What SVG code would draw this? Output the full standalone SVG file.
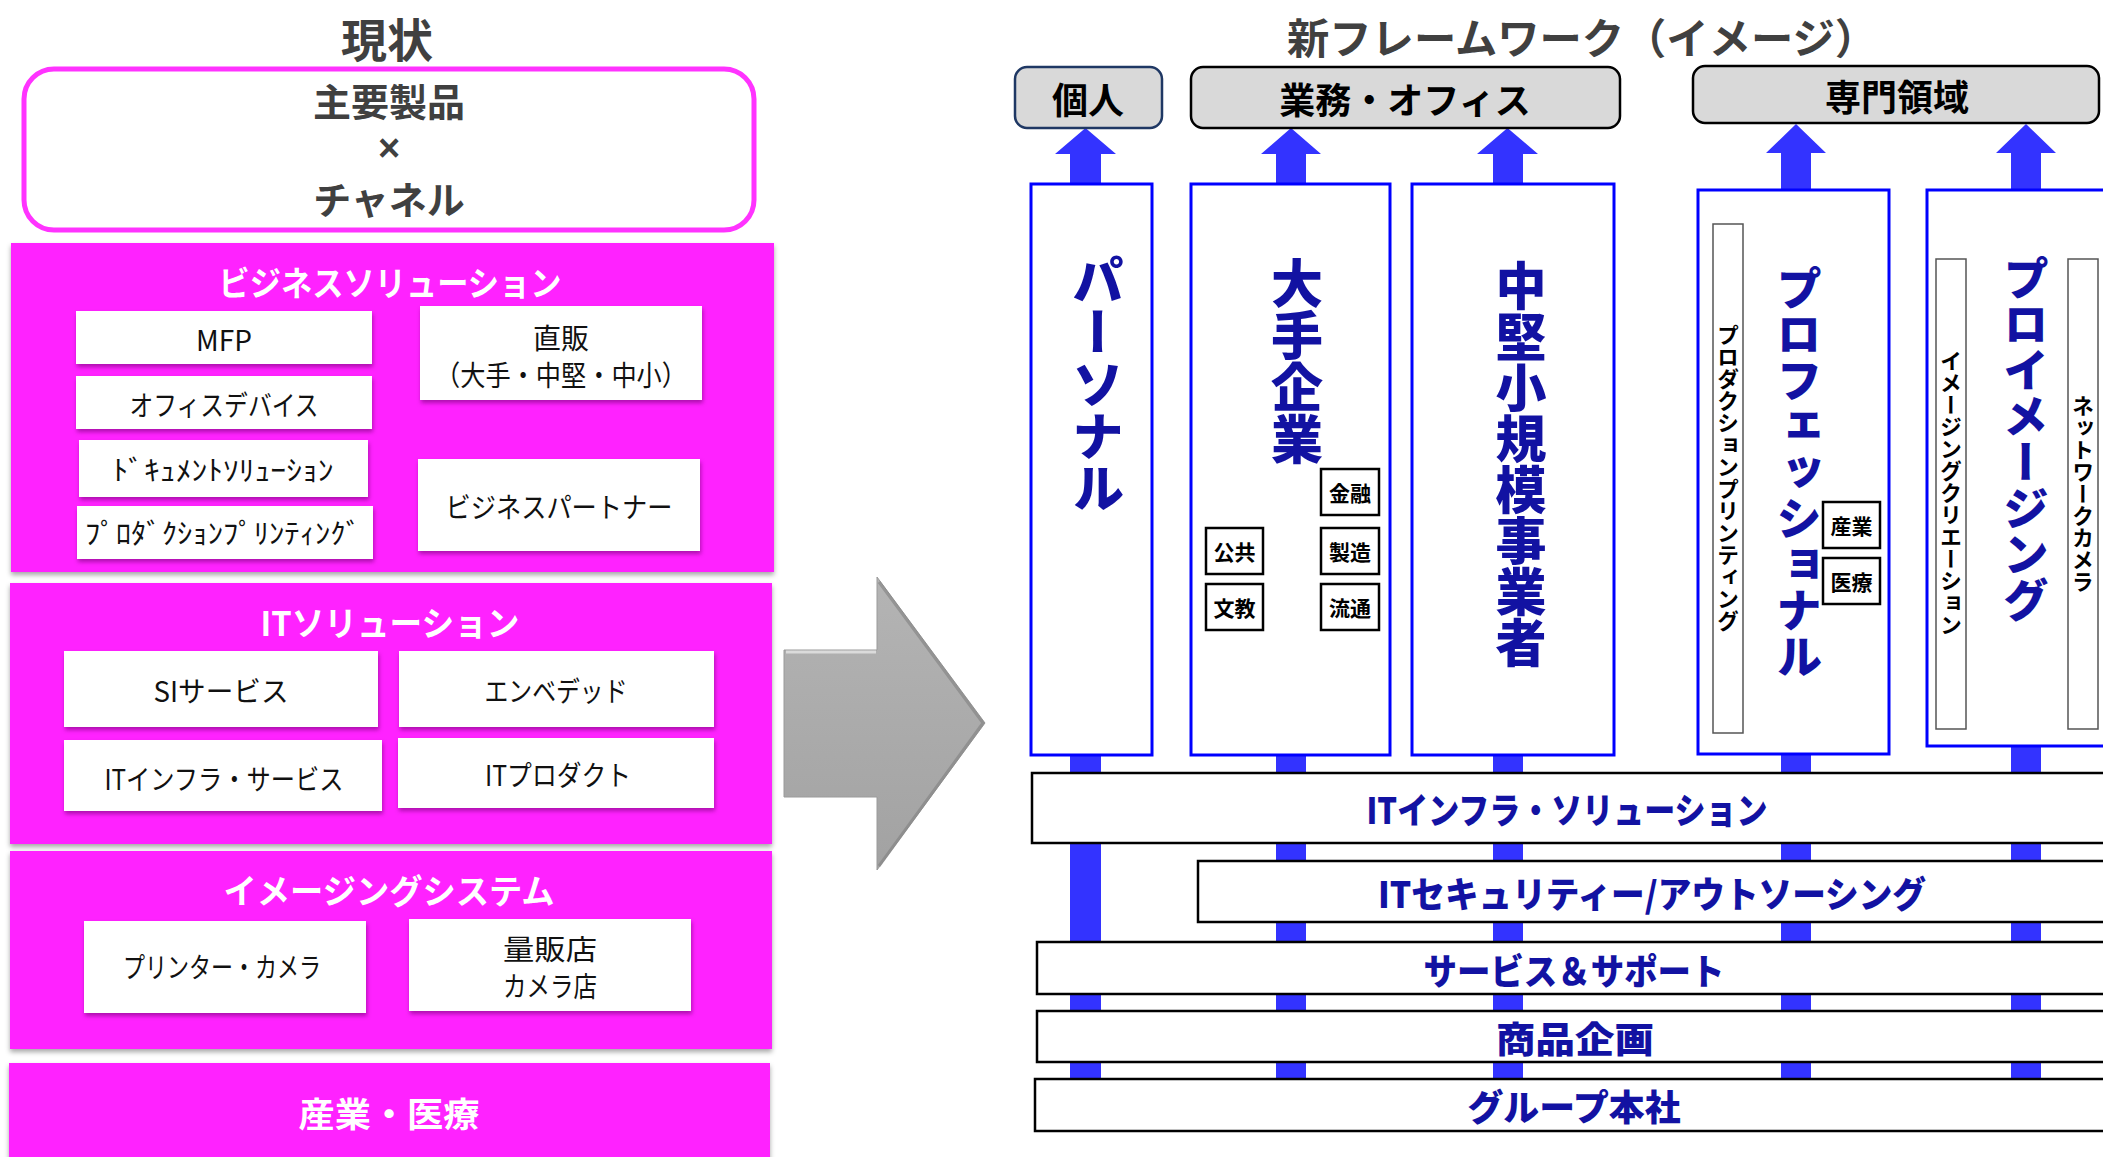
<svg xmlns="http://www.w3.org/2000/svg" width="2103" height="1157" viewBox="0 0 2103 1157">
<defs>
<style>
.jp{font-family:"Noto Sans CJK JP","Noto Sans",sans-serif;}
.title{font-family:"Noto Sans CJK JP",sans-serif;font-weight:700;fill:#404040;}
.panel{fill:#FF22FF;filter:url(#sh);}
.ptitle{font-family:"Noto Sans CJK JP",sans-serif;font-weight:700;fill:#FFFFFF;font-size:34px;}
.wbox{fill:#FFFFFF;filter:url(#sh2);}
.wtxt{font-family:"Noto Sans CJK JP",sans-serif;font-weight:400;fill:#111;font-size:28px;}
.hdr{fill:#D9D9D9;stroke:#000;stroke-width:2.5;}
.htxt{font-family:"Noto Sans CJK JP",sans-serif;font-weight:700;fill:#000;font-size:36px;}
.col{fill:#FFFFFF;stroke:#0000FF;stroke-width:3;}
.vbig{font-family:"Noto Sans CJK JP",sans-serif;font-weight:900;fill:#1212A2;writing-mode:vertical-rl;}
.vsm{font-family:"Noto Sans CJK JP",sans-serif;font-weight:700;fill:#000;writing-mode:vertical-rl;font-size:22px;}
.inbox{fill:#FFFFFF;stroke:#555;stroke-width:1.5;}
.tag{fill:#FFFFFF;stroke:#000;stroke-width:2.5;}
.tagtxt{font-family:"Noto Sans CJK JP",sans-serif;font-weight:700;fill:#000;font-size:21px;}
.band{fill:#FFFFFF;stroke:#000;stroke-width:2.5;}
.btxt{font-family:"Noto Sans CJK JP",sans-serif;font-weight:900;fill:#1212A2;font-size:36px;}
.up{fill:#3333FF;}
</style>
<filter id="sh" x="-5%" y="-5%" width="110%" height="115%">
<feDropShadow dx="0" dy="3" stdDeviation="2.5" flood-color="#000" flood-opacity="0.35"/>
</filter>
<filter id="sh2" x="-5%" y="-10%" width="110%" height="125%">
<feDropShadow dx="1" dy="3" stdDeviation="2" flood-color="#6a006a" flood-opacity="0.55"/>
</filter>
<linearGradient id="gArrow" x1="0" y1="0" x2="0" y2="1">
<stop offset="0" stop-color="#B4B4B4"/>
<stop offset="1" stop-color="#A2A2A2"/>
</linearGradient>
</defs>
<rect width="2103" height="1157" fill="#FFFFFF"/>

<!-- LEFT: current state -->
<g id="title-left">
<text class="title" x="387" y="37" font-size="46" text-anchor="middle" dominant-baseline="central">現状</text>
</g>
<g id="node-main">
<rect x="24" y="69" width="730" height="161" rx="30" ry="30" fill="#FFFFFF" stroke="#FF33FF" stroke-width="5"/>
<text class="title" x="389" y="99" font-size="38" text-anchor="middle" dominant-baseline="central">主要製品</text>
<text x="389" y="148" font-size="38" font-family="'Liberation Sans',sans-serif" font-weight="700" fill="#404040" text-anchor="middle" dominant-baseline="central">×</text>
<text class="title" x="389" y="197" font-size="38" text-anchor="middle" dominant-baseline="central">チャネル</text>
</g>

<g id="panel-business">
<rect class="panel" x="11" y="243" width="763" height="329"/>
<text class="ptitle" x="390" y="281" text-anchor="middle" dominant-baseline="central" textLength="343" lengthAdjust="spacingAndGlyphs">ビジネスソリューション</text>
<g id="node-mfp"><rect class="wbox" x="76" y="311" width="296" height="53"/>
<text class="wtxt" x="224" y="339" font-size="30" text-anchor="middle" dominant-baseline="central">MFP</text></g>
<g id="node-office"><rect class="wbox" x="76" y="376" width="296" height="53"/>
<text class="wtxt" x="224" y="404" text-anchor="middle" dominant-baseline="central" textLength="189" lengthAdjust="spacingAndGlyphs">オフィスデバイス</text></g>
<g id="node-document"><rect class="wbox" x="79" y="440" width="289" height="57"/>
<text class="wtxt" x="223" y="469" text-anchor="middle" dominant-baseline="central" textLength="221" lengthAdjust="spacingAndGlyphs">ﾄﾞｷｭﾒﾝﾄｿﾘｭｰｼｮﾝ</text></g>
<g id="node-production"><rect class="wbox" x="77" y="506" width="296" height="53"/>
<text class="wtxt" x="223" y="532" text-anchor="middle" dominant-baseline="central" textLength="276" lengthAdjust="spacingAndGlyphs">ﾌﾟﾛﾀﾞｸｼｮﾝﾌﾟﾘﾝﾃｨﾝｸﾞ</text></g>
<g id="node-direct"><rect class="wbox" x="420" y="306" width="282" height="94"/>
<text class="wtxt" x="561" y="337" text-anchor="middle" dominant-baseline="central">直販</text>
<text class="wtxt" x="561" y="374" text-anchor="middle" dominant-baseline="central" textLength="252" lengthAdjust="spacingAndGlyphs">（大手・中堅・中小）</text></g>
<g id="node-partner"><rect class="wbox" x="418" y="459" width="282" height="92"/>
<text class="wtxt" x="559" y="506" text-anchor="middle" dominant-baseline="central" textLength="227" lengthAdjust="spacingAndGlyphs">ビジネスパートナー</text></g>
</g>

<g id="panel-it">
<rect class="panel" x="10" y="583" width="762" height="261"/>
<text class="ptitle" x="390" y="621" text-anchor="middle" dominant-baseline="central" textLength="259" lengthAdjust="spacingAndGlyphs">ITソリューション</text>
<g id="node-si"><rect class="wbox" x="64" y="651" width="314" height="76"/>
<text class="wtxt" x="221" y="690" text-anchor="middle" dominant-baseline="central" textLength="135" lengthAdjust="spacingAndGlyphs">SIサービス</text></g>
<g id="node-embedded"><rect class="wbox" x="399" y="651" width="315" height="76"/>
<text class="wtxt" x="556" y="690" text-anchor="middle" dominant-baseline="central" textLength="143" lengthAdjust="spacingAndGlyphs">エンベデッド</text></g>
<g id="node-itinfra"><rect class="wbox" x="64" y="740" width="318" height="71"/>
<text class="wtxt" x="224" y="778" text-anchor="middle" dominant-baseline="central" textLength="239" lengthAdjust="spacingAndGlyphs">ITインフラ・サービス</text></g>
<g id="node-itproduct"><rect class="wbox" x="398" y="738" width="316" height="70"/>
<text class="wtxt" x="558" y="774" text-anchor="middle" dominant-baseline="central" textLength="146" lengthAdjust="spacingAndGlyphs">ITプロダクト</text></g>
</g>

<g id="panel-imaging">
<rect class="panel" x="10" y="851" width="762" height="198"/>
<text class="ptitle" x="389" y="889" text-anchor="middle" dominant-baseline="central" textLength="331" lengthAdjust="spacingAndGlyphs">イメージングシステム</text>
<g id="node-printer"><rect class="wbox" x="84" y="921" width="282" height="92"/>
<text class="wtxt" x="222" y="966" text-anchor="middle" dominant-baseline="central" textLength="198" lengthAdjust="spacingAndGlyphs">プリンター・カメラ</text></g>
<g id="node-retail"><rect class="wbox" x="409" y="919" width="282" height="92"/>
<text class="wtxt" x="550" y="948" text-anchor="middle" dominant-baseline="central" textLength="94" lengthAdjust="spacingAndGlyphs">量販店</text>
<text class="wtxt" x="550" y="985" text-anchor="middle" dominant-baseline="central" textLength="94" lengthAdjust="spacingAndGlyphs">カメラ店</text></g>
</g>

<g id="panel-industry">
<rect class="panel" x="9" y="1063" width="761" height="110"/>
<text class="ptitle" x="389" y="1112" font-size="36" text-anchor="middle" dominant-baseline="central" textLength="181" lengthAdjust="spacingAndGlyphs">産業・医療</text>
</g>

<!-- big transition arrow -->
<g id="transition-arrow">
<polygon points="784,650 877,650 877,577 985,723 877,870 877,797 784,797" fill="url(#gArrow)" stroke="#9A9A9A" stroke-width="1"/>
<polyline points="786,652 876,652" fill="none" stroke="#E6E6E6" stroke-width="3" opacity="0.8"/>
<polyline points="879,582 983,723 879,866" fill="none" stroke="#808080" stroke-width="3" opacity="0.6"/>
</g>

<!-- RIGHT: new framework -->
<g id="title-right">
<text class="title" x="1582" y="35" font-size="42" text-anchor="middle" dominant-baseline="central" textLength="590" lengthAdjust="spacingAndGlyphs">新フレームワーク（イメージ）</text>
</g>

<g id="connectors">
<polygon class="up" points="1070,1079 1070,154 1055,154 1085.5,128 1116,154 1101,154 1101,1079"/>
<polygon class="up" points="1276,1079 1276,154 1261,154 1291,128 1321,154 1306,154 1306,1079"/>
<polygon class="up" points="1493,1079 1493,154 1477,154 1507.5,128 1538,154 1523,154 1523,1079"/>
<polygon class="up" points="1781,1079 1781,153 1766,153 1796,124 1826,153 1811,153 1811,1079"/>
<polygon class="up" points="2011,1079 2011,153 1996,153 2026,124 2056,153 2041,153 2041,1079"/>
</g>

<g id="node-kojin">
<rect x="1015" y="67" width="147" height="61" rx="12" ry="12" fill="#D9D9D9" stroke="#1F3864" stroke-width="2.5"/>
<text class="htxt" x="1088" y="98" text-anchor="middle" dominant-baseline="central">個人</text>
</g>
<g id="node-gyomu">
<rect class="hdr" x="1191" y="67" width="429" height="61" rx="12" ry="12"/>
<text class="htxt" x="1405" y="98" text-anchor="middle" dominant-baseline="central">業務・オフィス</text>
</g>
<g id="node-senmon">
<rect class="hdr" x="1693" y="66" width="406" height="57" rx="12" ry="12"/>
<text class="htxt" x="1897" y="95" text-anchor="middle" dominant-baseline="central">専門領域</text>
</g>

<g id="node-personal">
<rect class="col" x="1031" y="184" width="121" height="571"/>
<text class="vbig" x="1098" y="384" font-size="52" text-anchor="middle">パーソナル</text>
</g>

<g id="node-large">
<rect class="col" x="1191" y="184" width="199" height="571"/>
<text class="vbig" x="1297" y="361" font-size="52" text-anchor="middle">大手企業</text>
<rect class="tag" x="1321" y="469" width="58" height="46"/>
<text class="tagtxt" x="1350" y="492" text-anchor="middle" dominant-baseline="central">金融</text>
<rect class="tag" x="1321" y="528" width="58" height="46"/>
<text class="tagtxt" x="1350" y="551" text-anchor="middle" dominant-baseline="central">製造</text>
<rect class="tag" x="1321" y="584" width="58" height="46"/>
<text class="tagtxt" x="1350" y="607" text-anchor="middle" dominant-baseline="central">流通</text>
<rect class="tag" x="1206" y="528" width="57" height="46"/>
<text class="tagtxt" x="1234.5" y="551" text-anchor="middle" dominant-baseline="central">公共</text>
<rect class="tag" x="1206" y="584" width="57" height="46"/>
<text class="tagtxt" x="1234.5" y="607" text-anchor="middle" dominant-baseline="central">文教</text>
</g>

<g id="node-sme">
<rect class="col" x="1412" y="184" width="202" height="571"/>
<text class="vbig" x="1521" y="464" font-size="51" text-anchor="middle">中堅小規模事業者</text>
</g>

<g id="node-professional">
<rect class="col" x="1698" y="190" width="191" height="564"/>
<rect class="inbox" x="1713" y="224" width="30" height="509"/>
<text class="vsm" x="1728" y="478" text-anchor="middle">プロダクションプリンティング</text>
<text class="vbig" x="1799" y="472" font-size="46" text-anchor="middle">プロフェッショナル</text>
<rect class="tag" x="1823" y="502" width="57" height="46"/>
<text class="tagtxt" x="1851.5" y="525" text-anchor="middle" dominant-baseline="central">産業</text>
<rect class="tag" x="1823" y="558" width="57" height="46"/>
<text class="tagtxt" x="1851.5" y="581" text-anchor="middle" dominant-baseline="central">医療</text>
</g>

<g id="node-proimaging">
<rect class="col" x="1927" y="190" width="190" height="556"/>
<rect class="inbox" x="1936" y="259" width="30" height="470"/>
<text class="vsm" x="1951" y="493" text-anchor="middle">イメージングクリエーション</text>
<text class="vbig" x="2026" y="439" font-size="46" text-anchor="middle">プロイメージング</text>
<rect class="inbox" x="2068" y="259" width="30" height="470"/>
<text class="vsm" x="2083" y="494" text-anchor="middle">ネットワークカメラ</text>
</g>

<g id="band-itinfra">
<rect class="band" x="1032" y="773" width="1090" height="70"/>
<text class="btxt" x="1567" y="808" text-anchor="middle" dominant-baseline="central" textLength="401" lengthAdjust="spacingAndGlyphs">ITインフラ・ソリューション</text>
</g>
<g id="band-itsecurity">
<rect class="band" x="1198" y="861" width="924" height="61"/>
<text class="btxt" x="1652" y="892" text-anchor="middle" dominant-baseline="central" textLength="548" lengthAdjust="spacingAndGlyphs">ITセキュリティー/アウトソーシング</text>
</g>
<g id="band-service">
<rect class="band" x="1037" y="942" width="1085" height="52" stroke-width="3"/>
<text class="btxt" x="1574" y="969" text-anchor="middle" dominant-baseline="central" textLength="301" lengthAdjust="spacingAndGlyphs">サービス＆サポート</text>
</g>
<g id="band-planning">
<rect class="band" x="1037" y="1011" width="1085" height="51" stroke-width="2"/>
<text class="btxt" x="1575" y="1037" text-anchor="middle" dominant-baseline="central" textLength="158" lengthAdjust="spacingAndGlyphs">商品企画</text>
</g>
<g id="band-hq">
<rect class="band" x="1035" y="1079" width="1087" height="52" stroke-width="2"/>
<text class="btxt" x="1574" y="1105" text-anchor="middle" dominant-baseline="central" textLength="213" lengthAdjust="spacingAndGlyphs">グループ本社</text>
</g>
</svg>
